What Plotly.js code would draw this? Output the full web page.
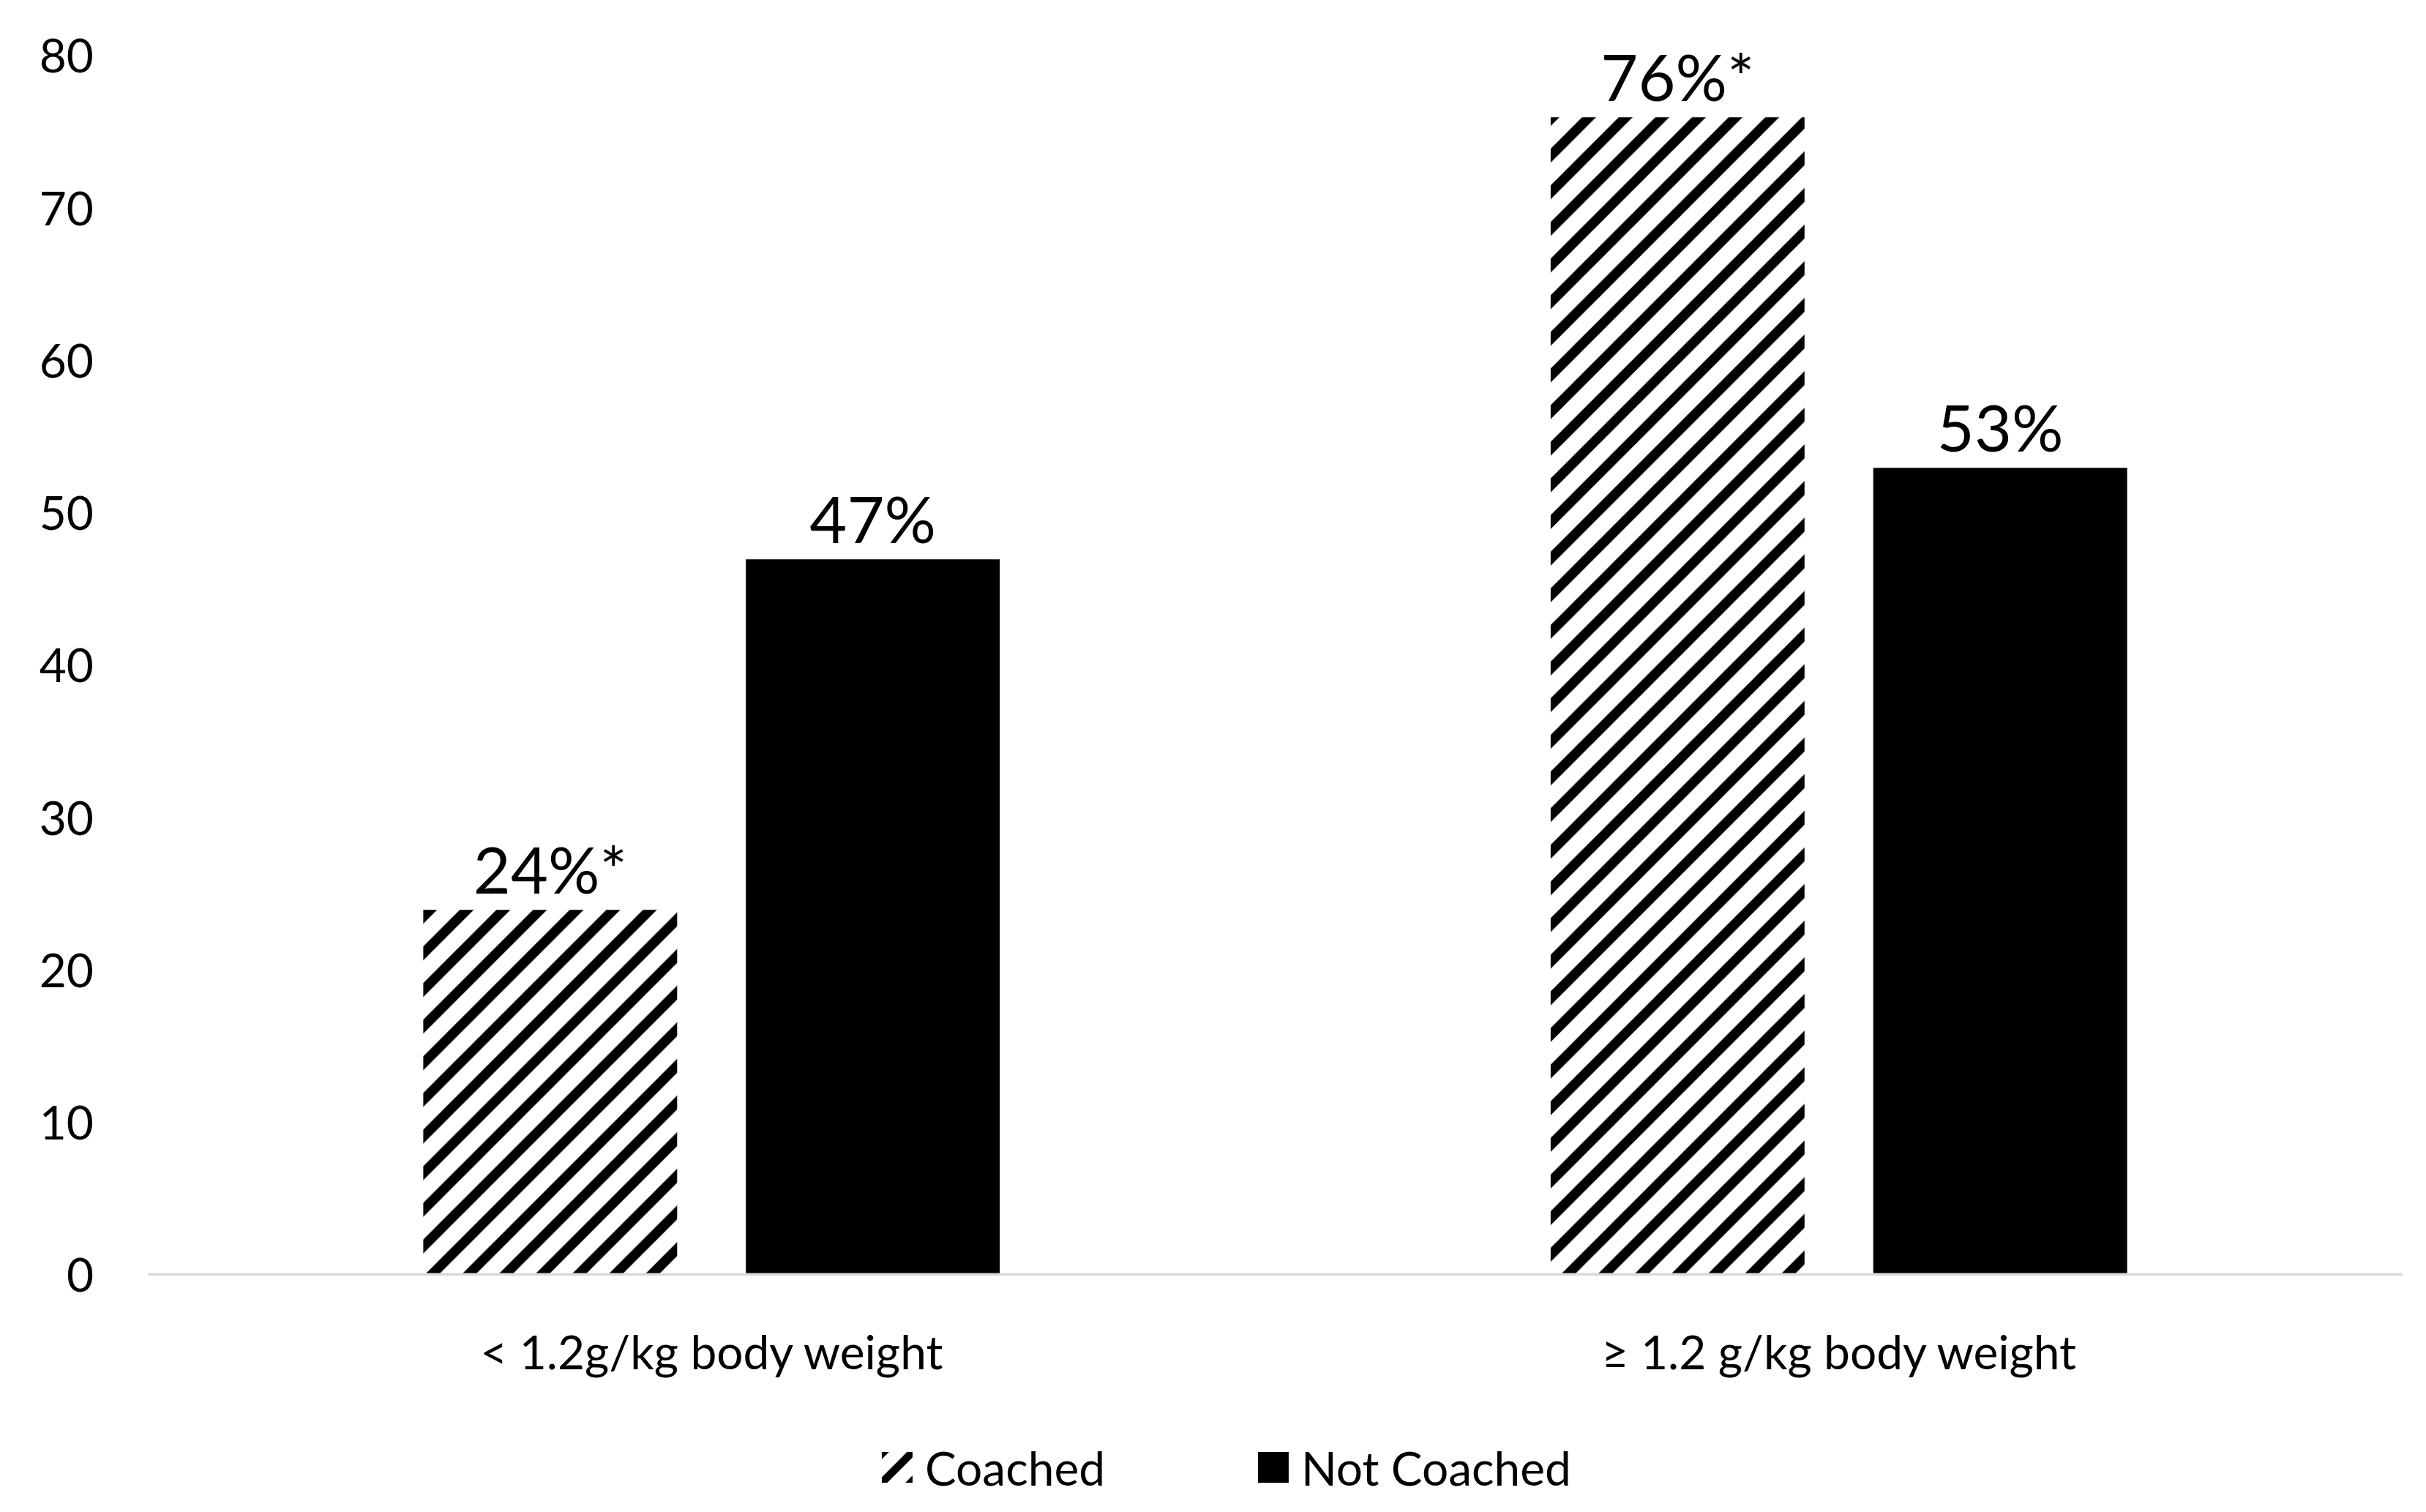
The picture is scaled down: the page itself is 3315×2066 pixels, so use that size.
<!DOCTYPE html>
<html>
<head>
<meta charset="utf-8">
<script src="https://cdn.plot.ly/plotly-3.0.1.min.js"></script>
<style>
html,body{margin:0;padding:0;background:#fff;}
#chart{width:3315px;height:2066px;}
</style>
</head>
<body>
<div id="chart"></div>
<script>
const categories = ['< 1.2g/kg body weight', '≥ 1.2 g/kg body weight'];
const coached = [24, 76];
const notCoached = [47, 53];
const coachedLabels = ['24%*', '76%*'];
const notCoachedLabels = ['47%', '53%'];
const yTicks = [0, 10, 20, 30, 40, 50, 60, 70, 80];

const FONT = 'Lato, "Open Sans", sans-serif';

const traces = [
  {
    type: 'bar', name: 'Coached', x: categories, y: coached,
    text: coachedLabels, textposition: 'outside', cliponaxis: false,
    textfont: {family: FONT, size: 88, color: '#000'},
    marker: {color: '#fff', line: {width: 0},
      pattern: {shape: '/', fgcolor: '#000', bgcolor: '#fff', size: 35.4, solidity: 0.38}},
    hoverinfo: 'none'
  },
  {
    type: 'bar', name: 'Not Coached', x: categories, y: notCoached,
    text: notCoachedLabels, textposition: 'outside', cliponaxis: false,
    textfont: {family: FONT, size: 88, color: '#000'},
    marker: {color: '#000', line: {width: 0}},
    hoverinfo: 'none'
  }
];

const layout = {
  width: 3315, height: 2066,
  paper_bgcolor: '#fff', plot_bgcolor: '#fff',
  margin: {l: 201.5, r: 31.5, t: 77, b: 316},
  barmode: 'group', bargap: 0.4277, bargroupgap: 0.213,
  font: {family: FONT, size: 64, color: '#000'},
  showlegend: true,
  legend: {orientation: 'h', x: 0.32, xanchor: 'left', y: -0.1575, yanchor: 'middle',
    itemwidth: 66, entrywidth: 433, entrywidthmode: 'pixels',
    font: {family: FONT, size: 64, color: '#000'}},
  xaxis: {
    type: 'category', showgrid: false, zeroline: false, showline: false,
    ticks: '', ticklabelstandoff: 63,
    tickfont: {family: FONT, size: 64, color: '#000'}
  },
  yaxis: {
    range: [0, 80], tickvals: yTicks, showgrid: false, zeroline: false,
    showline: false, ticks: '', ticklabelstandoff: 73,
    tickfont: {family: FONT, size: 64, color: '#000'}
  },
  shapes: [{
    type: 'line', xref: 'paper', yref: 'y', x0: 0, x1: 1, y0: 0, y1: 0,
    line: {color: '#d9d9d9', width: 7}, layer: 'above'
  }]
};

Plotly.newPlot('chart', traces, layout, {displayModeBar: false, staticPlot: true}).then(function () {
  document.querySelectorAll('.legend .legendpoints path').forEach(function (p) {
    const t = p.getAttribute('transform') || '';
    p.setAttribute('transform', (t + ' scale(3.5)').trim());
  });
});
</script>
</body>
</html>
